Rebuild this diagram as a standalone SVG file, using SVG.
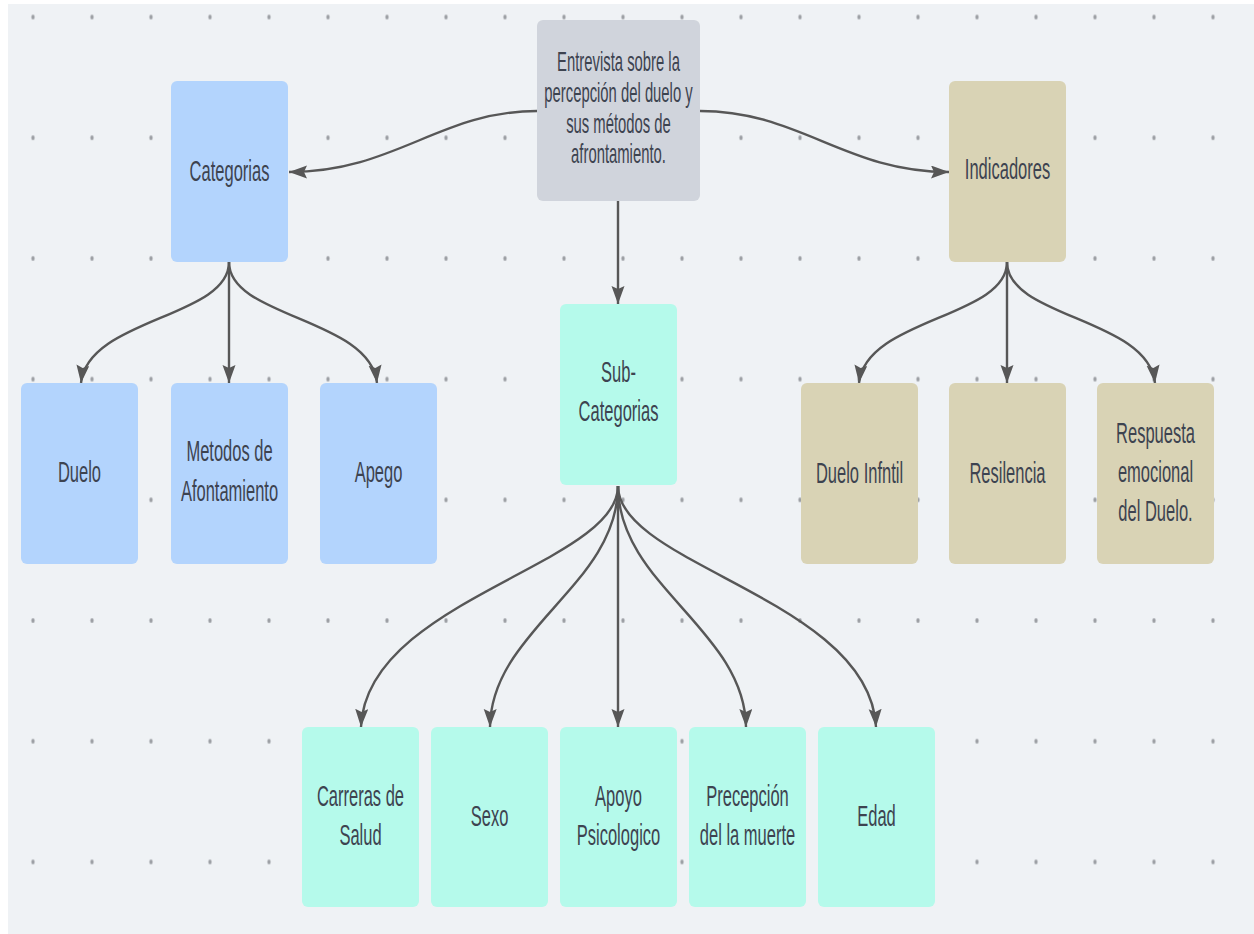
<svg xmlns="http://www.w3.org/2000/svg" width="1254" height="934" viewBox="0 0 1254 934">
<defs>
<style>
.t{font-family:"Liberation Sans",Arial,sans-serif;font-size:30px;fill:#3d4350;text-anchor:middle}
.tc{font-size:28px}
.blue{fill:#b3d4fd}
.grey{fill:#d0d4dc}
.tan{fill:#d9d3b5}
.mint{fill:#b5faeb}
.c{fill:none;stroke:#575757;stroke-width:2.4}
</style>
<marker id="ah" markerUnits="userSpaceOnUse" markerWidth="20" markerHeight="14" refX="18" refY="6.5" orient="auto">
<path d="M0,0 L18,6.5 L0,13 L3,6.5 z" fill="#575757"/>
</marker>
<pattern id="dots" patternUnits="userSpaceOnUse" x="3.5" y="-43.35" width="59" height="120.7">
<ellipse cx="29.5" cy="60.35" rx="1.6" ry="2.6" fill="#9b9ea3"/>
</pattern>
</defs>
<rect x="0" y="0" width="1254" height="934" fill="#ffffff"/>
<rect x="8" y="4" width="1246" height="930" fill="#eff2f5"/>
<rect x="8" y="4" width="1246" height="930" fill="url(#dots)"/>

<g id="connectors">
<path class="c" marker-end="url(#ah)" d="M537,111 C440,111 395,172 289,172"/>
<path class="c" marker-end="url(#ah)" d="M700,111 C800,111 845,172 949,172"/>
<path class="c" marker-end="url(#ah)" d="M618,201 L618,304"/>
<path class="c" marker-end="url(#ah)" d="M229,262 C229,318 88,318 81,383"/>
<path class="c" marker-end="url(#ah)" d="M229,262 L229,383"/>
<path class="c" marker-end="url(#ah)" d="M229,262 C229,318 370,318 377,383"/>
<path class="c" marker-end="url(#ah)" d="M1007,262 C1007,318 866,318 859,383"/>
<path class="c" marker-end="url(#ah)" d="M1007,262 L1007,383"/>
<path class="c" marker-end="url(#ah)" d="M1007,262 C1007,318 1148,318 1155,383"/>
<path class="c" marker-end="url(#ah)" d="M618,486 C618,565 366,600 361,727"/>
<path class="c" marker-end="url(#ah)" d="M618,486 C618,585 491,630 490,727"/>
<path class="c" marker-end="url(#ah)" d="M618,486 L618,727"/>
<path class="c" marker-end="url(#ah)" d="M618,486 C618,585 745,630 746,727"/>
<path class="c" marker-end="url(#ah)" d="M618,486 C618,565 870,600 876,727"/>
</g>

<g id="n-center"><rect class="grey" x="537" y="20" width="163" height="181" rx="6"/>
<text class="t tc" transform="matrix(0.53 0 0 1 618.5 0)"><tspan x="0" y="71">Entrevista sobre la</tspan><tspan x="0" y="102">percepción del duelo y</tspan><tspan x="0" y="133">sus métodos de</tspan><tspan x="0" y="163">afrontamiento.</tspan></text></g>

<g id="n-categorias"><rect class="blue" x="171" y="81" width="117" height="181" rx="6"/>
<text class="t" transform="matrix(0.55 0 0 1 229.5 0)"><tspan x="0" y="181">Categorias</tspan></text></g>

<g id="n-indicadores"><rect class="tan" x="949" y="81" width="117" height="181" rx="6"/>
<text class="t" transform="matrix(0.55 0 0 1 1007.5 0)"><tspan x="0" y="179">Indicadores</tspan></text></g>

<g id="n-duelo"><rect class="blue" x="21" y="383" width="117" height="181" rx="6"/>
<text class="t" transform="matrix(0.55 0 0 1 79.5 0)"><tspan x="0" y="482">Duelo</tspan></text></g>

<g id="n-metodos"><rect class="blue" x="171" y="383" width="117" height="181" rx="6"/>
<text class="t" transform="matrix(0.55 0 0 1 229.5 0)"><tspan x="0" y="461">Metodos de</tspan><tspan x="0" y="501">Afontamiento</tspan></text></g>

<g id="n-apego"><rect class="blue" x="320" y="383" width="117" height="181" rx="6"/>
<text class="t" transform="matrix(0.55 0 0 1 378.5 0)"><tspan x="0" y="482">Apego</tspan></text></g>

<g id="n-subcategorias"><rect class="mint" x="560" y="304" width="117" height="181" rx="6"/>
<text class="t" transform="matrix(0.55 0 0 1 618.5 0)"><tspan x="0" y="382">Sub-</tspan><tspan x="0" y="421">Categorias</tspan></text></g>

<g id="n-duelo-infantil"><rect class="tan" x="801" y="383" width="117" height="181" rx="6"/>
<text class="t" transform="matrix(0.55 0 0 1 859.5 0)"><tspan x="0" y="483">Duelo Infntil</tspan></text></g>

<g id="n-resilencia"><rect class="tan" x="949" y="383" width="117" height="181" rx="6"/>
<text class="t" transform="matrix(0.55 0 0 1 1007.5 0)"><tspan x="0" y="483">Resilencia</tspan></text></g>

<g id="n-respuesta"><rect class="tan" x="1097" y="383" width="117" height="181" rx="6"/>
<text class="t" transform="matrix(0.55 0 0 1 1155.5 0)"><tspan x="0" y="443">Respuesta</tspan><tspan x="0" y="482">emocional</tspan><tspan x="0" y="521">del Duelo.</tspan></text></g>

<g id="n-carreras"><rect class="mint" x="302" y="727" width="117" height="180" rx="6"/>
<text class="t" transform="matrix(0.55 0 0 1 360.5 0)"><tspan x="0" y="806">Carreras de</tspan><tspan x="0" y="845">Salud</tspan></text></g>

<g id="n-sexo"><rect class="mint" x="431" y="727" width="117" height="180" rx="6"/>
<text class="t" transform="matrix(0.55 0 0 1 489.5 0)"><tspan x="0" y="826">Sexo</tspan></text></g>

<g id="n-apoyo"><rect class="mint" x="560" y="727" width="117" height="180" rx="6"/>
<text class="t" transform="matrix(0.55 0 0 1 618.5 0)"><tspan x="0" y="806">Apoyo</tspan><tspan x="0" y="845">Psicologico</tspan></text></g>

<g id="n-precepcion"><rect class="mint" x="689" y="727" width="117" height="180" rx="6"/>
<text class="t" transform="matrix(0.55 0 0 1 747.5 0)"><tspan x="0" y="806">Precepción</tspan><tspan x="0" y="845">del la muerte</tspan></text></g>

<g id="n-edad"><rect class="mint" x="818" y="727" width="117" height="180" rx="6"/>
<text class="t" transform="matrix(0.55 0 0 1 876.5 0)"><tspan x="0" y="826">Edad</tspan></text></g>
</svg>
